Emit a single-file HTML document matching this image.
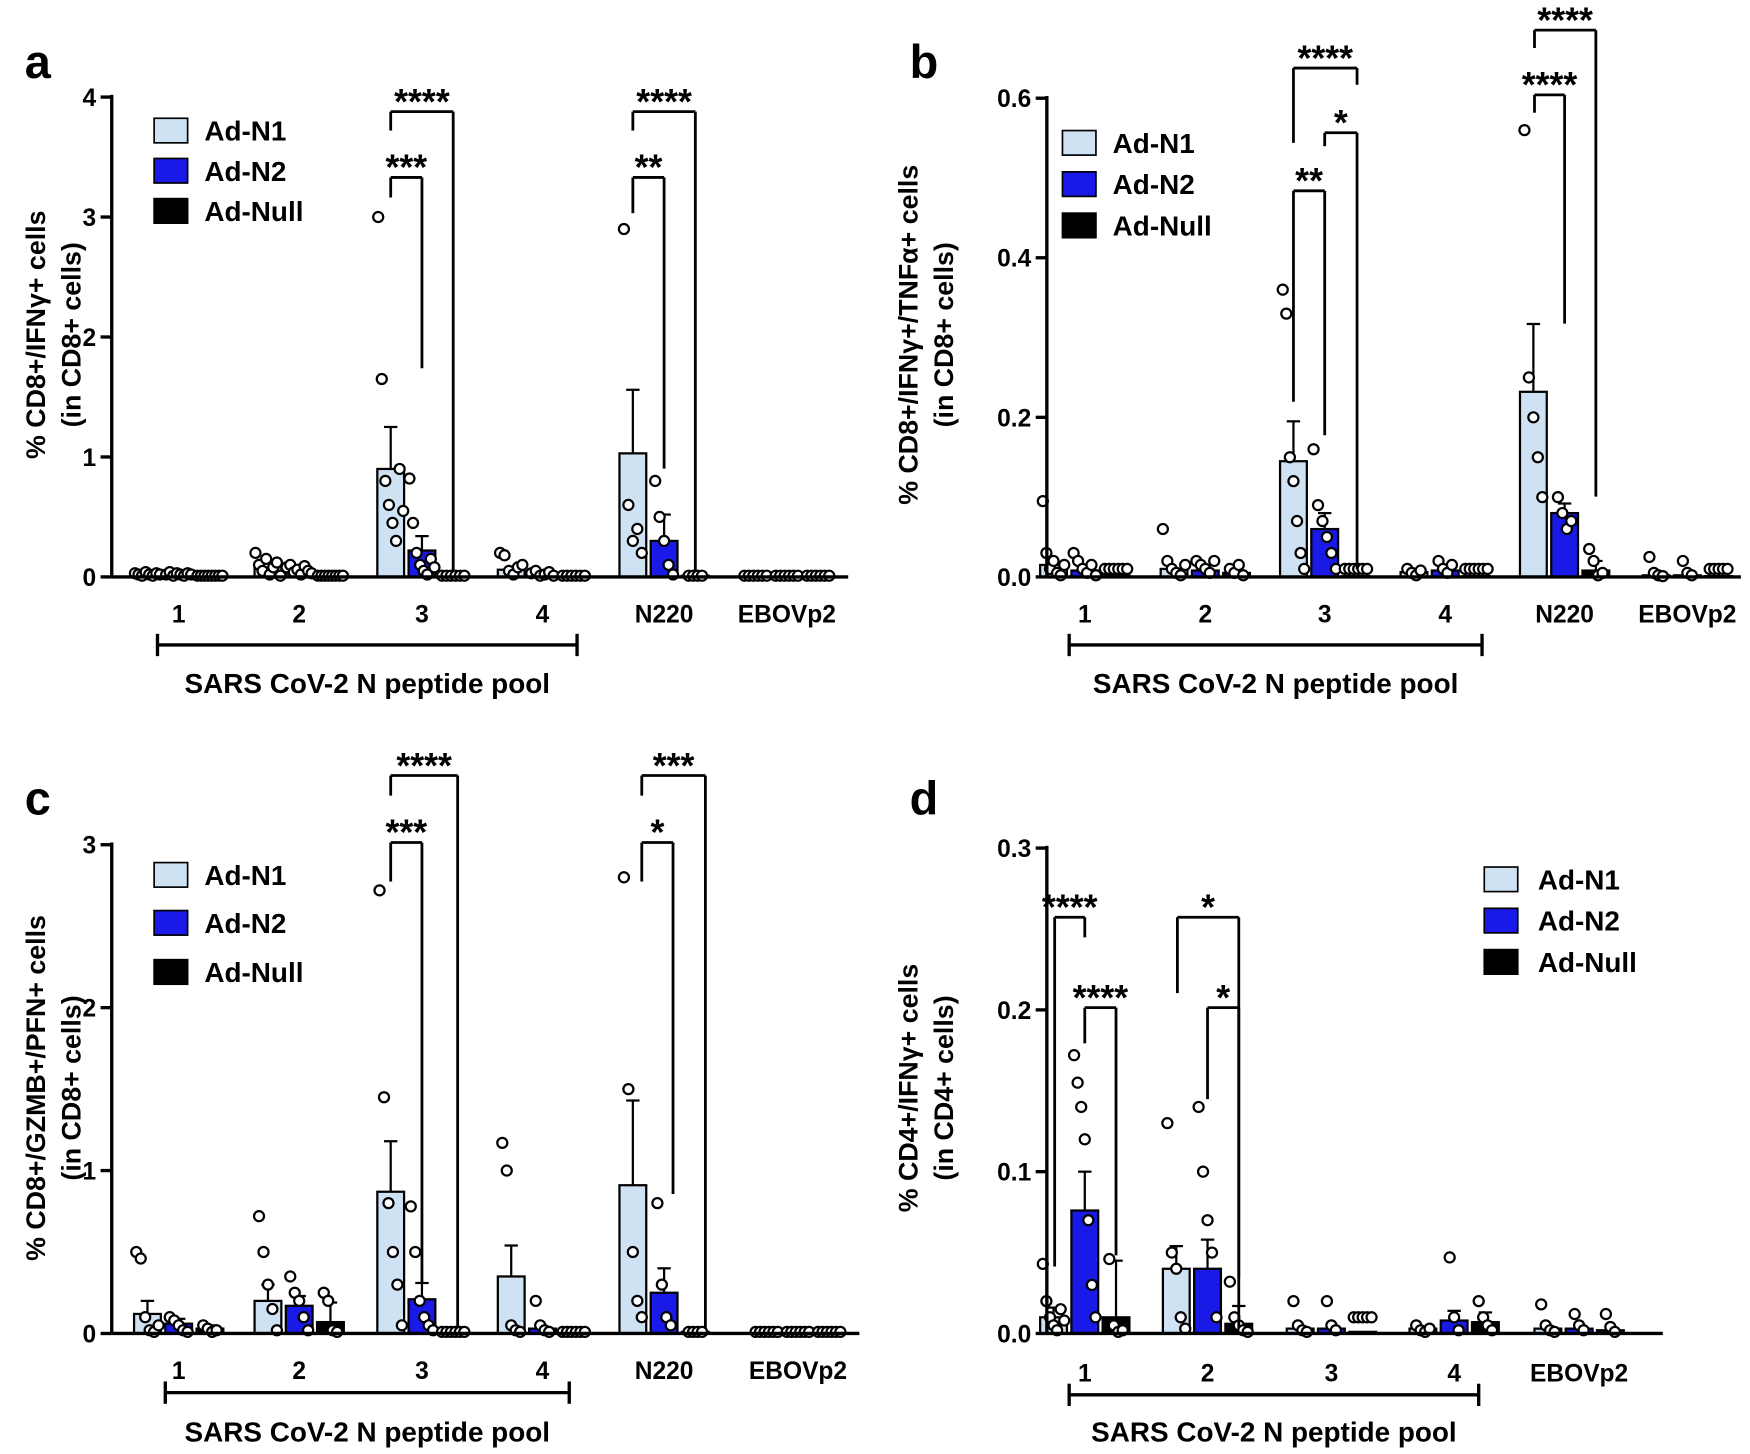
<!DOCTYPE html>
<html><head><meta charset="utf-8"><style>html,body{margin:0;padding:0;background:#fff}svg{display:block}</style></head>
<body>
<svg id="s" xmlns="http://www.w3.org/2000/svg" width="1750" height="1454" viewBox="0 0 1568 1303" font-family="Liberation Sans, Arial, sans-serif" font-weight="bold"></svg>
<script>
const S=document.getElementById('s');let h='';
const C=['#cfe2f4','#1a1ae8','#000'];
function L(x1,y1,x2,y2,w){h+=`<line x1="${x1}" y1="${y1}" x2="${x2}" y2="${y2}" stroke="#000" stroke-width="${w||3}"/>`;}
function T(x,y,t,sz,anc,extra){h+=`<text x="${x}" y="${y}" font-size="${sz}" text-anchor="${anc||'middle'}" ${extra||''}>${t}</text>`;}
function panel(o){
 const {ax,y0,yTop,max,ticks,xEnd,groups,labY,lineY,txtY,lx1,lx2,tfmt}=o;
 const sc=(y0-yTop)/max;const Y=v=>y0-v*sc;
 groups.forEach(g=>{
  g.v.forEach((v,i)=>{const cx=g.x+(i-1)*28;const top=Y(v);
   h+=`<rect x="${cx-12}" y="${top}" width="24" height="${y0-top}" fill="${C[i]}" stroke="#000" stroke-width="2"/>`;
   if(g.e&&g.e[i]){const et=Y(v+g.e[i]);L(cx,top,cx,et,2);L(cx-6,et,cx+6,et,2);}
   (g.d&&g.d[i]||[0,0,0,0,0,0,0,0]).forEach((dv,k,a)=>{const dx=cx+(k-(a.length-1)/2)*(a.length>6?3.2:4);
    h+=`<circle cx="${dx}" cy="${Y(dv)-0}" r="4.5" fill="#fff" stroke="#000" stroke-width="2"/>`;});
  });
  T(g.x,labY,g.n,22);
 });
 L(ax,y0,xEnd,y0);L(ax,y0,ax,yTop-2);
 ticks.forEach(t=>{L(ax-10,Y(t),ax,Y(t));T(ax-14,Y(t)+8,tfmt(t),22,'end');});
 L(lx1,lineY,lx2,lineY);L(lx1,lineY-10,lx1,lineY+10);L(lx2,lineY-10,lx2,lineY+10);
 T((lx1+lx2)/2,txtY,'SARS CoV-2 N peptide pool',25);
}
function br(x1,x2,y,yl,yr,lab){L(x1,yl,x1,y,2.5);L(x1,y,x2,y,2.5);L(x2,y,x2,yr,2.5);T((x1+x2)/2,y+2,lab,32);}
function leg(x,ys,tx){['Ad-N1','Ad-N2','Ad-Null'].forEach((n,i)=>{h+=`<rect x="${x}" y="${ys[i]-20}" width="30" height="22" fill="${C[i]}" stroke="#000" stroke-width="1.5"/>`;T(tx,ys[i],n,25,'start');});}
function ylab(x,cy,a,b){h+=`<g transform="translate(${x},${cy}) rotate(-90)"><text x="0" y="0" font-size="24" text-anchor="middle">${a}</text><text x="0" y="32" font-size="24" text-anchor="middle">${b}</text></g>`;}
const z=n=>Array(n).fill(0.01);
const f1=t=>String(t),f2=t=>t.toFixed(1);
// a
panel({ax:100,y0:517,yTop:87,max:4,ticks:[0,1,2,3,4],xEnd:760,labY:558,lineY:578,txtY:621,lx1:141,lx2:517,tfmt:f1,groups:[
{x:160,n:'1',v:[.02,.02,.02],d:[[.03,.02,.01,.04,.02,.01,.03,.02],[.02,.04,.01,.03,.02,.01,.03,.02],z(8)]},
{x:268,n:'2',v:[.08,.06,.02],d:[[.2,.1,.05,.15,.02,.08,.12,.01],[.08,.1,.04,.06,.02,.09,.05,.03],z(8)]},
{x:378,n:'3',v:[.9,.22,.01],e:[.35,.12,0],d:[[3.0,1.65,.8,.6,.45,.3,.9,.55],[.82,.45,.2,.1,.05,.02,.15,.08],z(6)]},
{x:486,n:'4',v:[.06,.03,.01],d:[[.2,.18,.05,.02,.08,.1],[.03,.05,.01,.02,.04,.01],z(6)]},
{x:595,n:'N220',v:[1.03,.3,.01],e:[.53,.22,0],d:[[2.9,.6,.3,.4,.2],[.8,.5,.3,.1,.02],z(4)]},
{x:705,n:'EBOVp2',v:[.01,.01,.01],d:[z(6),z(6),z(6)]}]});
br(350,378,159,177,330,'***');br(350,406,100,117,512,'****');
br(567,595,159,191,420,'**');br(567,623,100,117,512,'****');
leg(138,[126,162,198],183);ylab(40,300,'% CD8+/IFNγ+ cells','(in CD8+ cells)');
T(22,70,'a',42,'start');
// b
panel({ax:938,y0:517,yTop:88,max:.6,ticks:[0,.2,.4,.6],xEnd:1560,labY:558,lineY:578,txtY:621,lx1:958,lx2:1328,tfmt:f2,groups:[
{x:972,n:'1',v:[.015,.008,.002],d:[[.095,.03,.01,.02,.005,.002,.015],[.03,.02,.01,.005,.015,.002],z(6)]},
{x:1080,n:'2',v:[.01,.008,.005],d:[[.06,.02,.01,.005,.002,.015],[.02,.015,.01,.005,.02],[.01,.005,.015,.002]]},
{x:1187,n:'3',v:[.145,.06,.001],e:[.05,.02,0],d:[[.36,.33,.15,.12,.07,.03,.01],[.16,.09,.07,.05,.03,.01],z(6)]},
{x:1295,n:'4',v:[.006,.008,.001],d:[[.01,.005,.002,.008],[.02,.01,.005,.015],z(6)]},
{x:1402,n:'N220',v:[.232,.08,.008],e:[.085,.012,.012],d:[[.56,.25,.2,.15,.1],[.1,.08,.06,.07],[.035,.02,.002,.005]]},
{x:1512,n:'EBOVp2',v:[.002,.002,.001],d:[[.025,.005,.002,.001],[.02,.005,.002],z(5)]}]});
br(1159,1216,61,128,76,'****');br(1187,1216,119,131,510,'*');br(1159,1187,171,360,390,'**');
br(1375,1430,27,43,445,'****');br(1375,1402,85,101,290,'****');
leg(952,[137,174,211],997);ylab(822,300,'% CD8+/IFNγ+/TNFα+ cells','(in CD8+ cells)');
T(815,70,'b',42,'start');
// c
panel({ax:100,y0:1195,yTop:757,max:3,ticks:[0,1,2,3],xEnd:770,labY:1236,lineY:1248,txtY:1292,lx1:148,lx2:510,tfmt:f1,groups:[
{x:160,n:'1',v:[.12,.06,.03],e:[.08,.03,.02],d:[[.5,.46,.1,.02,.01,.05],[.1,.08,.05,.02,.01],[.05,.03,.01,.02]]},
{x:268,n:'2',v:[.2,.17,.07],e:[.1,.06,.12],d:[[.72,.5,.3,.15,.02],[.35,.25,.2,.1,.02],[.25,.2,.02,.01]]},
{x:378,n:'3',v:[.87,.21,.01],e:[.31,.1,0],d:[[2.72,1.45,.8,.5,.3,.05],[.78,.5,.2,.1,.05,.02],z(6)]},
{x:486,n:'4',v:[.35,.03,.01],e:[.19,0,0],d:[[1.17,1.0,.05,.02,.01],[.2,.05,.02,.01],z(6)]},
{x:595,n:'N220',v:[.91,.25,.01],e:[.52,.15,0],d:[[2.8,1.5,.5,.2,.1],[.8,.3,.1,.05],z(4)]},
{x:715,n:'EBOVp2',v:[.01,.01,.01],d:[z(6),z(6),z(6)]}]});
br(350,410,695,713,1190,'****');br(350,378,755,790,1150,'***');
br(575,632,695,713,1190,'***');br(575,603,755,790,1070,'*');
leg(138,[793,836,880],183);ylab(40,975,'% CD8+/GZMB+/PFN+ cells','(in CD8+ cells)');
T(22,730,'c',42,'start');
// d
panel({ax:938,y0:1195,yTop:760,max:.3,ticks:[0,.1,.2,.3],xEnd:1490,labY:1238,lineY:1250,txtY:1292,lx1:958,lx2:1325,tfmt:f2,groups:[
{x:972,n:'1',v:[.01,.076,.01],e:[.006,.024,.035],d:[[.043,.02,.01,.005,.002,.015,.008],[.172,.155,.14,.12,.07,.03,.01],[.046,.005,.001,.002]]},
{x:1082,n:'2',v:[.04,.04,.006],e:[.014,.018,.011],d:[[.13,.05,.04,.01,.003],[.14,.1,.07,.05,.01],[.032,.01,.005,.002,.001]]},
{x:1193,n:'3',v:[.003,.003,.001],d:[[.02,.005,.002,.001],[.02,.005,.002],z(5)]},
{x:1303,n:'4',v:[.003,.008,.007],e:[0,.006,.006],d:[[.005,.002,.001,.003],[.047,.01,.002],[.02,.01,.005,.002]]},
{x:1415,n:'EBOVp2',v:[.003,.003,.002],d:[[.018,.005,.002,.001],[.012,.005,.002],[.012,.004,.001]]}]});
br(945,972,822,1135,840,'****');br(972,1000,903,935,1125,'****');
br(1055,1110,822,890,1190,'*');br(1082,1110,903,985,1145,'*');
leg(1330,[797,834,871],1378);ylab(822,975,'% CD4+/IFNγ+ cells','(in CD4+ cells)');
T(815,730,'d',42,'start');
S.innerHTML=h;
</script>
</body></html>
